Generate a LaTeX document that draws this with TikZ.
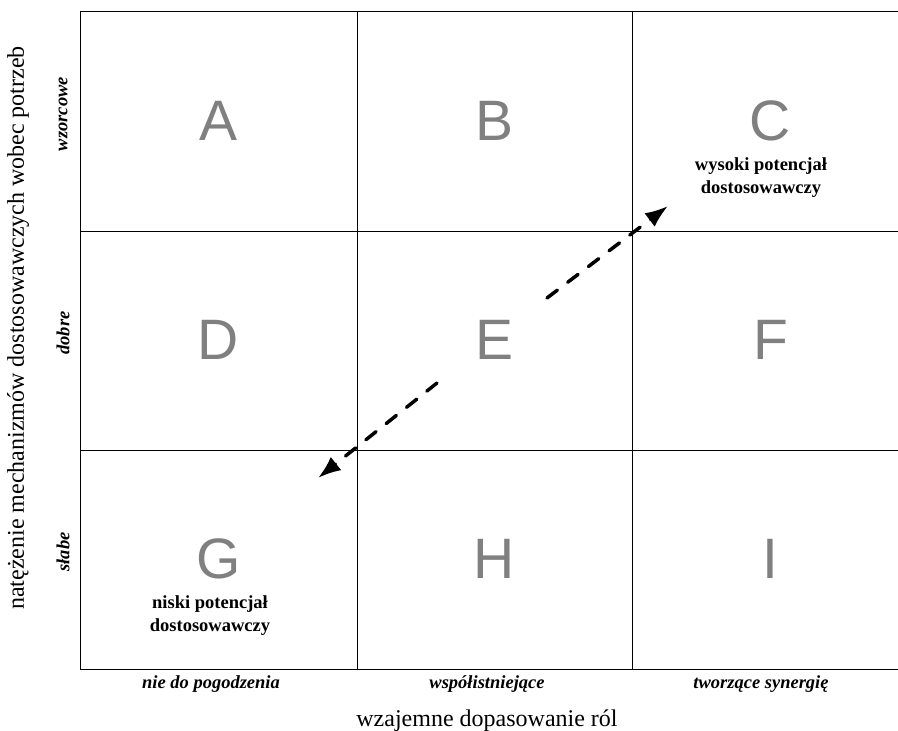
\documentclass[tikz,border=0pt]{standalone}
\usepackage{fontspec}
\setmainfont{Liberation Serif}
\newfontfamily\cellfont{Liberation Sans}
\usetikzlibrary{arrows.meta,positioning}
\definecolor{qdInk}   {HTML}{000000}
\definecolor{qdLetter}{HTML}{808080}

\begin{document}
\begin{tikzpicture}[x=1pt,y=-1pt,
    gridline/.style={draw=qdInk,line width=1pt},
    cellletter/.style={text=qdLetter,inner sep=0pt,
                       font=\cellfont\fontsize{57}{57}\selectfont},
    potential/.style={text=qdInk,align=center,inner sep=0pt,
                      font=\bfseries\fontsize{18.5}{23}\selectfont},
    axislevel/.style={text=qdInk,inner sep=0pt,
                      font=\bfseries\itshape\fontsize{18.5}{20}\selectfont},
    axistitle/.style={text=qdInk,inner sep=0pt,
                      font=\fontsize{24}{28}\selectfont},
    shiftarrow/.style={draw=qdInk,line width=3.5pt,line cap=round,
                       dash pattern=on 13pt off 13pt,
                       -{Latex[length=23pt,width=17pt]}}]
        \useasboundingbox (0,0) rectangle (898,731);
        \clip (0,0) rectangle (898,731);

        \draw[gridline] (909,11) -- (80,11) -- (80,669) -- (909,669);
        \draw[gridline] (357,11) -- (357,669);
        \draw[gridline] (632,11) -- (632,669);
        \draw[gridline] (80,231) -- (909,231);
        \draw[gridline] (80,450) -- (909,450);

        \node[cellletter] (cellA) at (218.5,121) {A};
        \node[cellletter] (cellB) at (494.5,121) {B};
        \node[cellletter] (cellC) at (770.5,121) {C};
        \node[cellletter] (cellD) at (218.5,340) {D};
        \node[cellletter] (cellE) at (494.5,340) {E};
        \node[cellletter] (cellF) at (770.5,340) {F};
        \node[cellletter] (cellG) at (218.5,559) {G};
        \node[cellletter] (cellH) at (494.5,559) {H};
        \node[cellletter] (cellI) at (770.5,559) {I};

        \node[potential] (highPot) at (761,178) {wysoki potencjał\\dostosowawczy};
        \node[potential] (lowPot)  at (210,616) {niski potencjał\\dostosowawczy};

        \coordinate (upStart)   at (547,298);
        \coordinate (upTip)     at (668,206);
        \coordinate (downStart) at (437,383);
        \coordinate (downTip)   at (318,478);
        \draw[shiftarrow] (upStart) -- (upTip);
        \draw[shiftarrow] (downStart) -- (downTip);

        \node[axislevel,anchor=base] (colLow)  at (211,688) {nie do pogodzenia};
        \node[axislevel,anchor=base] (colMid)  at (487,688) {współistniejące};
        \node[axislevel,anchor=base] (colHigh) at (761,688) {tworzące synergię};

        \node[axislevel,rotate=90] (rowHigh) at (63,114) {wzorcowe};
        \node[axislevel,rotate=90] (rowMid)  at (63,333) {dobre};
        \node[axislevel,rotate=90] (rowLow)  at (63,552) {słabe};

        \node[axistitle,anchor=base] (xTitle) at (487,726) {wzajemne dopasowanie ról};
        \node[axistitle,rotate=90] (yTitle) at (18,328)
          {natężenie mechanizmów dostosowawczych wobec potrzeb};
      \end{tikzpicture}
\end{document}
